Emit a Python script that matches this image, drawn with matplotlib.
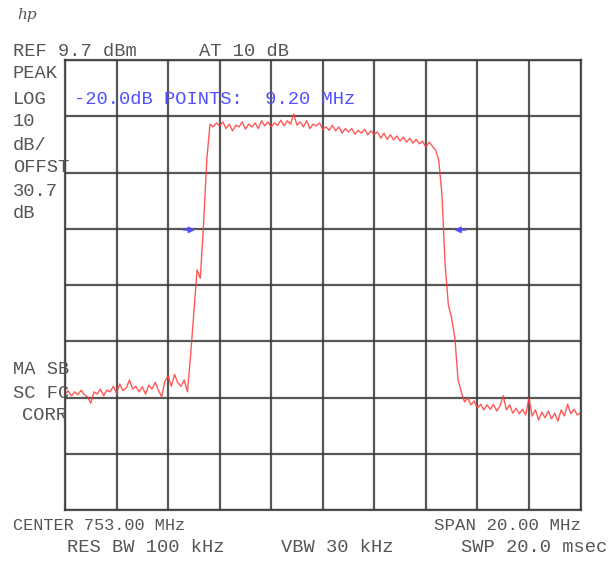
import numpy as np
import matplotlib.pyplot as plt

# analyzer settings
center = 753.0
span = 20.0
ref_level = 9.7
db_per_div = 10

# trace, dBm, one value every 0.125 MHz from 743 to 763 MHz
trace = [
    -49.7, -49.1, -50.0, -49.3, -49.8, -49.0, -49.8, -50.2, -51.3, -49.3,
    -49.7, -48.8, -50.0, -49.0, -49.3, -48.3, -49.5, -47.9, -49.1, -48.6,
    -47.2, -48.8, -48.3, -49.3, -48.4, -49.7, -48.1, -48.8, -47.6, -49.0,
    -50.2, -47.4, -46.5, -48.3, -46.2, -47.7, -48.3, -47.2, -49.3, -42.7,
    -35.1, -27.6, -29.1, -19.6, -8.1, -1.7, -2.2, -1.5, -2.0, -1.3,
    -2.5, -1.7, -2.9, -1.9, -2.2, -1.3, -2.6, -1.7, -2.2, -1.5,
    -2.5, -1.1, -2.0, -1.3, -2.2, -1.5, -1.9, -1.0, -2.0, -1.1,
    -1.7, 0.1, -1.9, -1.3, -2.2, -1.1, -2.5, -1.7, -2.0, -1.5,
    -2.6, -2.2, -2.8, -1.9, -2.9, -2.2, -3.3, -2.5, -3.1, -2.5,
    -3.5, -2.8, -3.3, -2.6, -3.6, -2.9, -3.5, -3.1, -4.2, -3.3,
    -4.4, -3.6, -4.5, -3.8, -4.7, -4.0, -4.9, -4.2, -5.1, -4.4,
    -5.2, -4.7, -5.8, -4.9, -5.6, -6.3, -8.1, -14.3, -26.8, -33.9,
    -36.2, -39.7, -47.2, -49.3, -51.1, -50.4, -51.6, -50.9, -52.2, -51.5,
    -52.5, -51.6, -52.4, -51.5, -52.7, -51.8, -50.0, -52.5, -51.6, -53.1,
    -52.2, -53.2, -52.4, -53.4, -50.4, -53.6, -52.5, -54.3, -52.9, -53.9,
    -52.7, -54.1, -53.1, -54.5, -52.5, -53.6, -51.5, -53.2, -52.4, -53.4,
    -53.1,
]

# -20 dB point markers (freq MHz, level dBm, direction)
marker_freqs = [747.85, 758.3]
marker_level = -20.5
marker_dirs = [1, -1]

grey = '#555555'
blue = '#5050ff'
font = 'Liberation Mono'

fig = plt.figure(figsize=(6.08, 5.62), dpi=100)
W, H = 608, 562
ax = fig.add_axes([65 / W, 1 - 510 / H, 515.5 / W, 450 / H])

f_start = center - span / 2
f_stop = center + span / 2
freqs = np.linspace(f_start, f_stop, len(trace))
ax.plot(freqs, trace, color='#ff3b3b', lw=1.0, alpha=0.85)

for f, d in zip(marker_freqs, marker_dirs):
    ax.annotate('', xy=(f + d * 0.2, marker_level), xytext=(f - d * 0.25, marker_level),
                arrowprops=dict(arrowstyle='-|>', color=blue, lw=1.2,
                                mutation_scale=9, shrinkA=0, shrinkB=0))

ax.set_xlim(f_start, f_stop)
ax.set_ylim(ref_level - 8 * db_per_div, ref_level)
ax.set_xticks(np.linspace(f_start, f_stop, 11))
ax.set_yticks(np.linspace(ref_level - 8 * db_per_div, ref_level, 9))
ax.tick_params(length=0, labelbottom=False, labelleft=False)
ax.grid(True, color='#3a3a3a', lw=1.6, alpha=0.85)
for s in ax.spines.values():
    s.set_color('#3a3a3a')
    s.set_linewidth(1.6)
    s.set_alpha(0.85)


def txt(x, y, s, color=grey, ha='left', size=13.5, **kw):
    fig.text(x / W, 1 - y / H, s, color=color, ha=ha, va='center',
             family=font, fontsize=size, **kw)


fig.text(17 / W, 1 - 15 / H, 'hp', color=grey, ha='left', va='center',
         family='DejaVu Serif', style='italic', fontsize=11)
txt(13, 51, 'REF 9.7 dBm')
txt(199, 51, 'AT 10 dB')
txt(13, 73, 'PEAK')
txt(13, 99, 'LOG')
txt(13, 122, '10')
txt(13, 145, 'dB/')
txt(13, 168, 'OFFST')
txt(13, 191, '30.7')
txt(13, 214, 'dB')
txt(74, 99, '-20.0dB POINTS:  9.20 MHz', color=blue)
txt(13, 370, 'MA SB')
txt(13, 393, 'SC FC')
txt(22, 415, 'CORR')
txt(13, 526, 'CENTER 753.00 MHz', size=12.2)
txt(581, 526, 'SPAN 20.00 MHz', ha='right', size=12.6)
txt(67, 547, 'RES BW 100 kHz')
txt(281, 547, 'VBW 30 kHz')
txt(607, 547, 'SWP 20.0 msec', ha='right')

fig.savefig('out.png', dpi=100)
